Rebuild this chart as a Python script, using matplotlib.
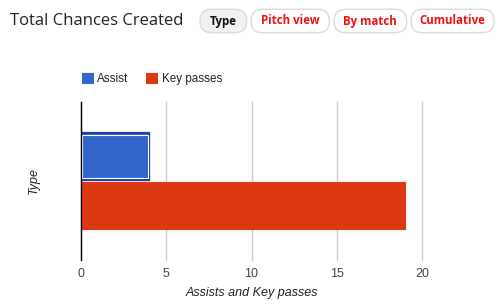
import matplotlib.pyplot as plt
from matplotlib.patches import FancyBboxPatch
from matplotlib.transforms import IdentityTransform

# data
category = 'Type'
series = ['Assist', 'Key passes']
values = [4, 19]
colors = ['#3366cc', '#dc3912']
xticks = [0, 5, 10, 15, 20]
buttons = ['Type', 'Pitch view', 'By match', 'Cumulative']

W, H = 500, 308
fig = plt.figure(figsize=(W / 100, H / 100), dpi=100)
fig.patch.set_facecolor('white')


def fx(px):
    return px / W


def fy(py):
    return 1 - py / H


# plot area: x 81..422 px, y 101.7..260 px
ax = fig.add_axes([fx(81), fy(260), fx(422 - 81), (260 - 101.7) / H])

offsets = [-0.155, 0.155]
bar_h = 0.3
for name, val, col, off in zip(series, values, colors, offsets):
    ax.barh(0 + off, val, height=bar_h, color=col, label=name, zorder=3,
            edgecolor=col, linewidth=0.8)

# selected-bar highlight on the assist bar
ax.barh(0 + offsets[0], values[0], height=bar_h, fill=False,
        edgecolor='#1c3fa8', linewidth=1.6, zorder=4)
ax.barh(0 + offsets[0], values[0] - 0.12, left=0.06, height=bar_h - 0.03,
        fill=False, edgecolor='white', linewidth=0.8, zorder=5)

ax.set_xlim(0, 20)
ax.set_ylim(0.5, -0.5)
ax.set_xticks(xticks)
ax.set_yticks([])
ax.grid(axis='x', color='#cccccc', linewidth=1, zorder=0)
for gl in ax.get_xgridlines():
    gl.set_clip_on(False)
for s in ['top', 'right', 'bottom']:
    ax.spines[s].set_visible(False)
ax.spines['left'].set_color('black')
ax.spines['left'].set_linewidth(1)
ax.spines['left'].set_zorder(6)
ax.tick_params(axis='x', length=0, pad=6, labelsize=9, labelcolor='#444444')
for lbl in ax.get_xticklabels():
    lbl.set_family('Liberation Sans')

ax.set_xlabel('Assists and Key passes', fontsize=9, style='italic',
              color='#222222', family='Liberation Sans', labelpad=5)
fig.text(fx(34), fy(180), category, rotation=90, fontsize=9, style='italic',
         color='#222222', family='Liberation Sans', ha='center', va='center')

# legend
handles, labels = ax.get_legend_handles_labels()
leg = fig.legend(handles[:2], labels[:2], loc='center left',
                 bbox_to_anchor=(fx(71), fy(79)), ncol=2, frameon=False,
                 handlelength=0.95, handleheight=0.95, handletextpad=0.4,
                 columnspacing=1.5, prop={'family': 'Liberation Sans', 'size': 8.4})
for t in leg.get_texts():
    t.set_color('#222222')

# title
fig.text(fx(10), fy(21), 'Total Chances Created', fontsize=12, color='#222222',
         family='Open Sans', ha='left', va='center')

# pill buttons (drawn in pixel coordinates)
btn_x = [(200, 246.7), (251, 329.3), (334, 406.7), (411, 494)]
top, bot = 9.3, 32.7
r = (bot - top) / 2
for (x0, x1), lab in zip(btn_x, buttons):
    active = lab == 'Type'
    box = FancyBboxPatch((x0 + r, H - bot + r), x1 - x0 - 2 * r, 0,
                         boxstyle='round,pad=%f' % r,
                         transform=IdentityTransform(),
                         facecolor='#f1f1f1' if active else 'white',
                         edgecolor='#dadada', linewidth=1)
    fig.patches.append(box)
    fig.text(fx((x0 + x1) / 2), fy(21), lab, fontsize=8.3,
             color='#111111' if active else '#ee1111', weight='bold',
             family='Open Sans', ha='center', va='center')

fig.savefig('out.png', dpi=100)
